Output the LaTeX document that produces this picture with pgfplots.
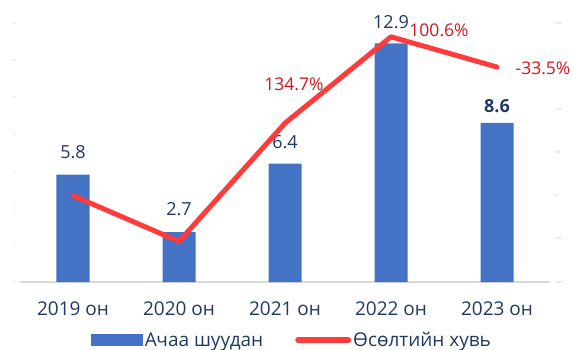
\documentclass[border=0pt]{standalone}
\usepackage{pgfplots}
\pgfplotsset{compat=1.18}
\usepackage{fontspec}
\setmainfont{Open Sans}
\definecolor{barblue}{HTML}{4472C4}
\definecolor{navy}{HTML}{1F3864}
\definecolor{linered}{HTML}{FF3B3B}
\definecolor{labred}{HTML}{D0161C}
\begin{document}
\begin{tikzpicture}
\path[use as bounding box] (-20bp,-68bp) rectangle (554bp,282bp);
\begin{axis}[
  at={(0,0)}, anchor=south west, scale only axis,
  width=530bp, height=259bp, clip=false,
  xmin=-0.5, xmax=4.5, ymin=0, ymax=14, ytick distance=2,
  xtick={0,1,2,3,4},
  xticklabels={2019 он,2020 он,2021 он,2022 он,2023 он},
  axis x line*=bottom, axis y line*=left,
  x axis line style={draw=black!15, line width=1.5bp, -},
  y axis line style={draw=none},
  major tick length=0pt,
  /pgf/number format/assume math mode=true,
  xticklabel style={font=\fontsize{19bp}{22bp}\selectfont, text=navy, yshift=-16bp},
  yticklabel style={font=\fontsize{3bp}{3bp}\selectfont, text=black!25, xshift=-1bp},
  legend style={at={(0.513,-0.225)}, anchor=center, draw=none, fill=none,
    legend columns=2, font=\fontsize{19bp}{22bp}\selectfont, text=navy,
    /tikz/every even column/.append style={column sep=30bp}},
  legend cell align=left,
]
\addplot[ybar, bar width=33bp, fill=barblue, draw=none,
  legend image code/.code={\fill[barblue] (0bp,-6bp) rectangle (52bp,6bp);}]
  coordinates {(0,5.8) (1,2.7) (2,6.4) (3,12.9) (4,8.6)};
\addlegendentry{Ачаа шуудан}
\addlegendimage{legend image code/.code={\draw[linered, line width=6bp, line cap=round] (3bp,0bp) -- (53bp,0bp);}}
\addlegendentry{Өсөлтийн хувь}
\begin{scope}[every node/.style={font=\fontsize{18bp}{20bp}\selectfont, text=navy, anchor=base}]
\node[yshift=16bp] at (axis cs:0,5.8) {5.8};
\node[yshift=17bp] at (axis cs:1,2.7) {2.7};
\node[yshift=15bp] at (axis cs:2,6.4) {6.4};
\node[yshift=15bp] at (axis cs:3,12.9) {12.9};
\node[yshift=10bp] at (axis cs:4,8.6) {\bfseries 8.6};
\end{scope}
\end{axis}
\begin{axis}[
  at={(0,0)}, anchor=south west, scale only axis,
  width=530bp, height=259bp, clip=false,
  xmin=-0.5, xmax=4.5, ymin=-100, ymax=200,
  ytick={-100,-50,0,50,100,200},
  axis x line=none, axis y line*=right,
  y axis line style={draw=none},
  major tick length=0pt,
  /pgf/number format/assume math mode=true,
  yticklabel style={font=\fontsize{3bp}{3bp}\selectfont, text=black!25, xshift=1bp},
  yticklabel={\pgfmathprintnumber{\tick}\%},
]
\addplot[linered, line width=5bp, line cap=round, line join=round, mark=none]
  coordinates {(0,0) (1,-53) (2,84) (3,184) (4,149)};
\begin{scope}[every node/.style={font=\fontsize{17.5bp}{20bp}\selectfont, text=labred, anchor=base}]
\node at (axis cs:2.085,122) {134.7\%};
\node at (axis cs:3.453,184) {100.6\%};
\node at (axis cs:4.434,140) {-33.5\%};
\end{scope}
\end{axis}
\end{tikzpicture}
\end{document}
